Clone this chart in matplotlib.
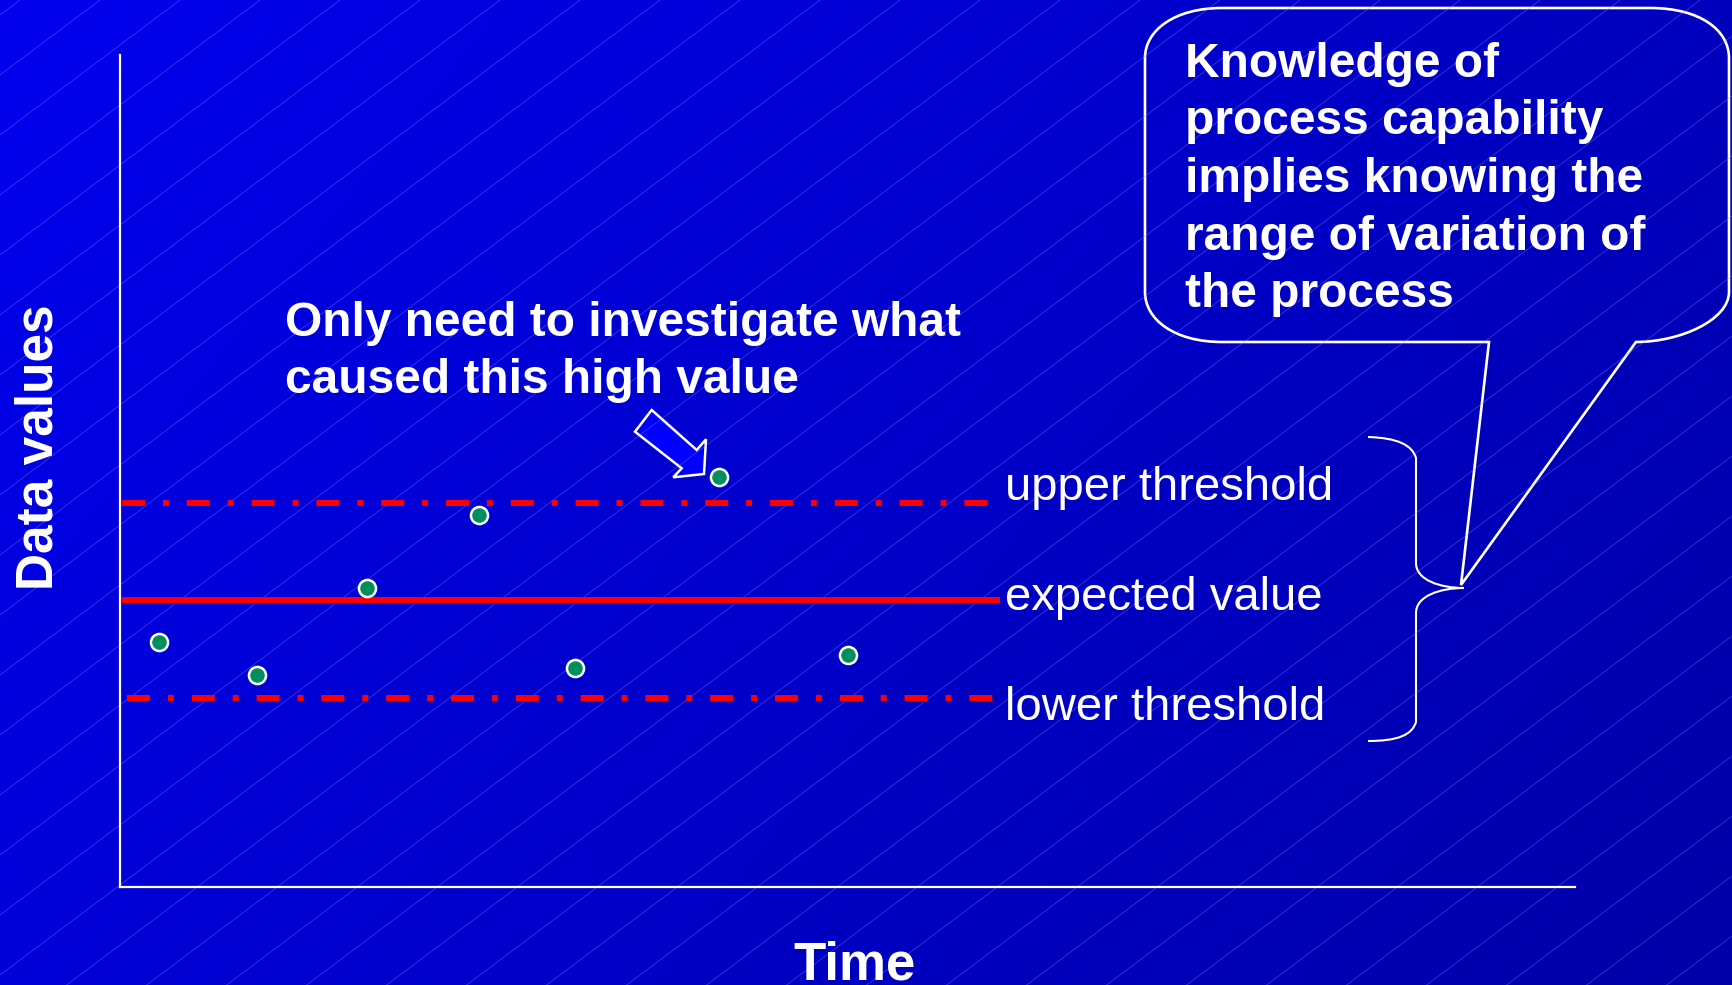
import numpy as np
import matplotlib
matplotlib.use("Agg")
import matplotlib.pyplot as plt
from matplotlib.path import Path
from matplotlib.patches import PathPatch, Polygon
from matplotlib.collections import LineCollection

plt.rcParams['font.family'] = ['Liberation Sans', 'DejaVu Sans']

# ---- data ----
time_vals = [2.7, 9.4, 17.0, 24.7, 31.3, 41.2, 50.0]
data_vals = [29.4, 25.5, 35.9, 44.7, 26.3, 49.3, 27.9]
upper_threshold = 46.1
expected_value = 34.5
lower_threshold = 22.7
line_start = 0.15
line_end = 60.5
level_labels = ["upper threshold", "expected value", "lower threshold"]
note_lines = ["Only need to investigate what", "caused this high value"]
bubble_lines = ["Knowledge of", "process capability", "implies knowing the",
                "range of variation of", "the process"]
x_label = "Time"
y_label = "Data values"

W, H = 1732, 985
fig = plt.figure(figsize=(W / 100, H / 100), dpi=100)

# ---- background ----
bg = fig.add_axes([0, 0, 1, 1], zorder=0)
bg.set_xlim(0, W)
bg.set_ylim(H, 0)
bg.axis('off')
xx, yy = np.meshgrid(np.linspace(0, 1, 200), np.linspace(0, 1, 120))
blue = (238 - 48 * xx - 22 * yy) / 255.0
img = np.zeros((120, 200, 3))
img[..., 2] = blue
bg.imshow(img, extent=(0, W, H, 0), aspect='auto', interpolation='bilinear')
segs = []
for c in np.arange(15, H + 0.75 * W + 60, 60):
    segs.append([(0, c), (W, c - 0.75 * W)])
bg.add_collection(LineCollection(segs, colors=[(0.55, 0.55, 1.0)], linewidths=0.6, alpha=0.4))

# ---- data axes ----
ax = fig.add_axes([120 / W, (H - 887) / H, 1455 / W, 832 / H], zorder=1)
ax.set_facecolor('none')
ax.set_xlim(0, 100)
ax.set_ylim(0, 100)
for s in ['top', 'right']:
    ax.spines[s].set_visible(False)
for s in ['left', 'bottom']:
    ax.spines[s].set_color('white')
    ax.spines[s].set_linewidth(1.6)
ax.set_xticks([])
ax.set_yticks([])

lw = 4.3
dashdot = (0, (3.85, 3.0, 1.0, 3.0))
ax.plot([line_start, line_end], [upper_threshold] * 2, color='#ff0000', lw=lw,
        linestyle=dashdot, solid_capstyle='butt', dash_capstyle='butt')
ax.plot([line_start, line_end], [expected_value] * 2, color='#ff0000', lw=lw,
        solid_capstyle='butt')
ax.plot([line_start + 0.3, line_end + 0.3], [lower_threshold] * 2, color='#ff0000', lw=lw,
        linestyle=dashdot, solid_capstyle='butt', dash_capstyle='butt')
ax.plot(time_vals, data_vals, linestyle='none', marker='o', markersize=12.3,
        markerfacecolor='#009060', markeredgecolor='white', markeredgewidth=1.8)

# ---- labels ----
for lbl, yb in zip(level_labels, [500, 610, 720]):
    bg.text(1005, yb, lbl, color='white', fontsize=34, va='baseline', ha='left')

for line, yb in zip(note_lines, [336, 393]):
    bg.text(285, yb, line, color='white', fontsize=34.5, fontweight='bold',
            va='baseline', ha='left')

for i, line in enumerate(bubble_lines):
    bg.text(1185, 77 + 57.5 * i, line, color='white', fontsize=34.5, fontweight='bold',
            va='baseline', ha='left')

bg.text(855, 980, x_label, color='white', fontsize=38, fontweight='bold',
        va='baseline', ha='center')
bg.text(53, 447, y_label, color='white', fontsize=37, fontweight='bold',
        rotation=90, rotation_mode='anchor', va='baseline', ha='center')

# ---- speech bubble ----
L, T, R, B = 1145, 8, 1729, 342
verts = [
    (1222, T), (1650, T),
    (1700, T), (R, 30), (R, 58),
    (R, 292),
    (R, 320), (1680, B), (1636, B),
    (1461, 585),
    (1489, B),
    (1222, B),
    (1175, B), (L, 320), (L, 292),
    (L, 58),
    (L, 30), (1175, T), (1222, T),
]
codes = [Path.MOVETO, Path.LINETO,
         Path.CURVE4, Path.CURVE4, Path.CURVE4,
         Path.LINETO,
         Path.CURVE4, Path.CURVE4, Path.CURVE4,
         Path.LINETO, Path.LINETO, Path.LINETO,
         Path.CURVE4, Path.CURVE4, Path.CURVE4,
         Path.LINETO,
         Path.CURVE4, Path.CURVE4, Path.CURVE4]
bg.add_patch(PathPatch(Path(verts, codes), facecolor='none', edgecolor='white', lw=1.9))

# ---- brace ----
bverts = [
    (1368, 437),
    (1398, 438), (1412, 445), (1416, 458),
    (1416, 563),
    (1416, 580), (1440, 588), (1464, 588),
    (1440, 588), (1416, 596), (1416, 613),
    (1416, 722),
    (1412, 735), (1398, 741), (1368, 741),
]
bcodes = [Path.MOVETO,
          Path.CURVE4, Path.CURVE4, Path.CURVE4,
          Path.LINETO,
          Path.CURVE4, Path.CURVE4, Path.CURVE4,
          Path.CURVE4, Path.CURVE4, Path.CURVE4,
          Path.LINETO,
          Path.CURVE4, Path.CURVE4, Path.CURVE4]
bg.add_patch(PathPatch(Path(bverts, bcodes), facecolor='none', edgecolor='white', lw=1.5))

# ---- block arrow ----
arrow_pts = [(651.7, 410), (696.7, 450), (706, 439.3), (704, 474),
             (673.3, 477.3), (681.7, 468.3), (635, 431.7)]
bg.add_patch(Polygon(arrow_pts, closed=True, facecolor='#0000ff', edgecolor='white', lw=1.8))

fig.savefig('out.png', dpi=100)
